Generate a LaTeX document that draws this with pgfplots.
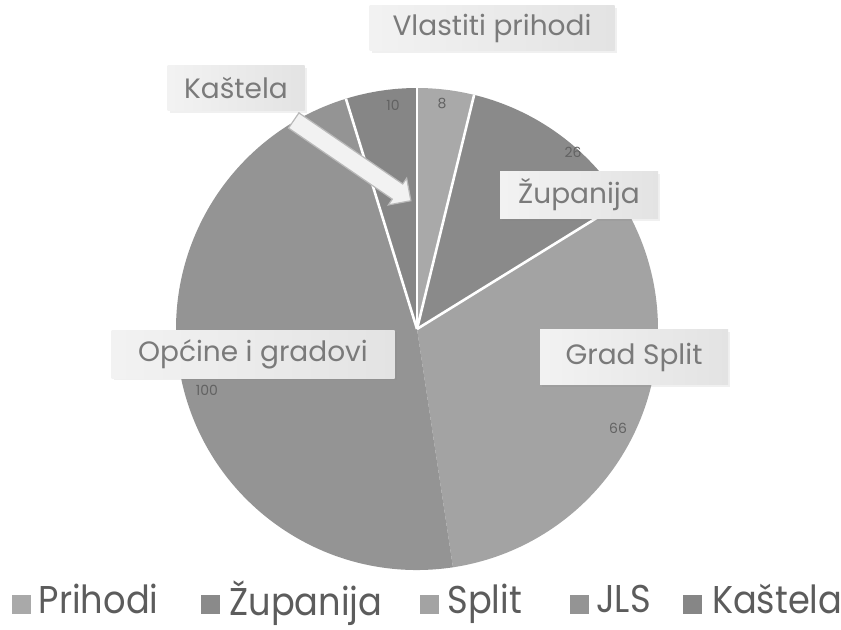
\documentclass[border=0pt]{standalone}
\usepackage{pgfplots}
\pgfplotsset{compat=1.18}
\usepackage{pgfplotstable}
\usepackage{fontspec}
\usepackage{graphicx}
\setmainfont{Poppins}
\usetikzlibrary{shapes.arrows,calc,shadows}

\definecolor{c0}{HTML}{A9A9A9}
\definecolor{c1}{HTML}{8A8A8A}
\definecolor{c2}{HTML}{A3A3A3}
\definecolor{c3}{HTML}{949494}
\definecolor{c4}{HTML}{868686}
\definecolor{txt}{HTML}{7A7A7A}
\definecolor{legtxt}{HTML}{5C5C5C}

% value, and position of its data label (in picture pixels, y from bottom)
\pgfplotstableread{
name value lx ly
Prihodi 8 442 526
Zupanija 26 573 477
Split 66 618 201
JLS 100 207 239
Kastela 10 393 524
}\piedata

\def\pcx{417}
\def\pcy{300}

\begin{document}
\begin{tikzpicture}
\pgfplotstablegetrowsof{\piedata}%
\pgfmathtruncatemacro{\nlast}{\pgfplotsretval-1}%
\gdef\pietotal{0}%
\foreach \i in {0,...,\nlast}{%
  \pgfplotstablegetelem{\i}{value}\of{\piedata}%
  \pgfmathsetmacro{\tmp}{\pietotal+\pgfplotsretval}%
  \xdef\pietotal{\tmp}%
}%
\gdef\piecum{90}%
\foreach \i in {0,...,\nlast}{%
  \pgfplotstablegetelem{\i}{value}\of{\piedata}%
  \edef\v{\pgfplotsretval}%
  \pgfplotstablegetelem{\i}{lx}\of{\piedata}\edef\lx{\pgfplotsretval}%
  \pgfplotstablegetelem{\i}{ly}\of{\piedata}\edef\ly{\pgfplotsretval}%
  \pgfmathsetmacro{\frac}{\v/\pietotal}%
  \pgfmathsetmacro{\endang}{\piecum-360*\frac}%
  \expandafter\xdef\csname pieS\i\endcsname{\piecum}%
  \expandafter\xdef\csname pieE\i\endcsname{\endang}%
  \expandafter\xdef\csname pieX\i\endcsname{\lx}%
  \expandafter\xdef\csname pieY\i\endcsname{\ly}%
  \expandafter\xdef\csname pieV\i\endcsname{\v}%
  \xdef\piecum{\endang}%
}%
\begin{axis}[
  name=ax,
  width=420.5pt, height=314.5pt, scale only axis,
  xmin=0, xmax=841, ymin=0, ymax=629,
  hide axis, clip=false,
  legend columns=5,
  legend cell align=left,
  legend style={draw=none, fill=none, inner sep=0pt, outer sep=0pt,
    at={(axis cs:12,29)}, anchor=west,
    /tikz/every odd column/.style={column sep=0pt},
    /tikz/every even column/.style={column sep=0pt},
    nodes={inner sep=0pt, text=legtxt, font=\fontsize{17.6}{20}\selectfont}},
]
\pgfplotsinvokeforeach{0,...,4}{%
  \edef\temp{\noexpand\fill[c#1]
    (axis cs:\pcx,\pcy) -- ++(\csname pieS#1\endcsname:120.5pt)
    arc[start angle=\csname pieS#1\endcsname, end angle=\csname pieE#1\endcsname, radius=120.5pt] -- cycle;}%
  \temp
}
\pgfplotsinvokeforeach{0,1,2,4}{%
  \edef\temp{\noexpand\draw[white, line width=1.3pt]
    (axis cs:\pcx,\pcy) -- ++(\csname pieS#1\endcsname:120.5pt);}%
  \temp
}
\pgfplotsinvokeforeach{0,...,4}{%
  \edef\temp{\noexpand\node[text=txt!80!black, font=\noexpand\fontsize{7}{8}\noexpand\selectfont]
    at (axis cs:\csname pieX#1\endcsname,\csname pieY#1\endcsname) {\csname pieV#1\endcsname};}%
  \temp
}

% arrow
\node[single arrow, draw=gray!55, fill=gray!10, line width=0.6pt, inner sep=4.3pt,
  single arrow head extend=3.5pt, minimum height=71pt, rotate=-34.4]
  at (axis cs:348.5,471) {};

% callouts
\tikzset{callout/.style={left color=gray!10, right color=gray!22, draw=none,
  text=txt, font=\fontsize{14}{16}\selectfont, inner sep=0pt,
  drop shadow={opacity=0.12, shadow xshift=1pt, shadow yshift=-1pt}}}
\node[callout, minimum width=122.5pt, minimum height=22.5pt] at (axis cs:492,601) {Vlastiti prihodi};
\node[callout, minimum width=68.5pt, minimum height=22.5pt] at (axis cs:236,541) {Kaštela};
\node[callout, minimum width=79pt, minimum height=23.5pt] at (axis cs:579,434) {Županija};
\node[callout, minimum width=94pt, minimum height=27.5pt] at (axis cs:634,272) {Grad Split};
\node[callout, minimum width=141.5pt, minimum height=24pt] at (axis cs:253,275) {Općine i gradovi};

% legend
\addlegendimage{legend image code/.code={\fill[c0] (0pt,-6.5pt) rectangle (9pt,2.5pt); \path (13pt,0pt);}}
\addlegendentry{\makebox[81pt][l]{\scalebox{1}[1.1]{Prihodi}}}
\addlegendimage{legend image code/.code={\fill[c1] (0pt,-6.5pt) rectangle (9pt,2.5pt); \path (14pt,0pt);}}
\addlegendentry{\makebox[95pt][l]{\scalebox{1}[1.1]{Županija}}}
\addlegendimage{legend image code/.code={\fill[c2] (0pt,-6.5pt) rectangle (9pt,2.5pt); \path (13.5pt,0pt);}}
\addlegendentry{\makebox[61.5pt][l]{\scalebox{1}[1.1]{Split}}}
\addlegendimage{legend image code/.code={\fill[c3] (0pt,-6.5pt) rectangle (9pt,2.5pt); \path (12.5pt,0pt);}}
\addlegendentry{\makebox[43.5pt][l]{\scalebox{1}[1.1]{JLS}}}
\addlegendimage{legend image code/.code={\fill[c4] (0pt,-6.5pt) rectangle (9pt,2.5pt); \path (14pt,0pt);}}
\addlegendentry{\scalebox{1}[1.1]{Kaštela}}
\end{axis}
\pgfresetboundingbox
\path (ax.south west) rectangle (ax.north east);
\end{tikzpicture}
\end{document}
